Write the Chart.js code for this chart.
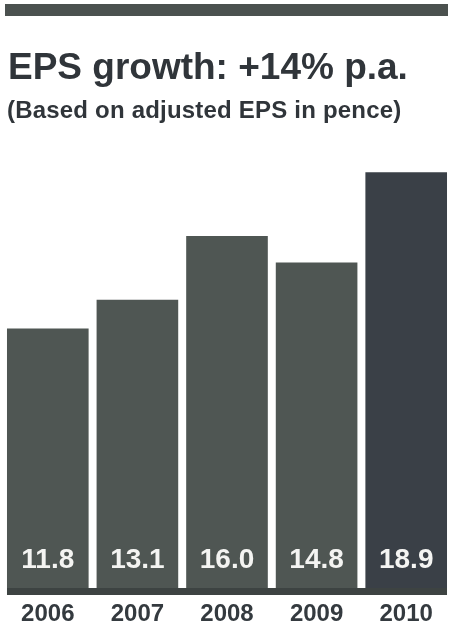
<!DOCTYPE html>
<html>
<head>
<meta charset="utf-8">
<script src="https://cdn.jsdelivr.net/npm/chart.js@4.4.0/dist/chart.umd.min.js"></script>
<style>
  body { margin: 0; background: #fff; }
  #wrap { position: relative; width: 451px; height: 630px; font-family: "Liberation Sans", Arial, Helvetica, sans-serif; }
  #rule { position: absolute; left: 5px; top: 4px; width: 443px; height: 12px; background: #4b514f; }
  #title { position: absolute; left: 8px; top: 48px; margin: 0; font-size: 37px; line-height: 37px; font-weight: bold; color: #30353a; white-space: nowrap; }
  #subtitle { position: absolute; left: 7px; top: 98px; margin: 0; font-size: 24px; line-height: 24px; font-weight: bold; letter-spacing: 0.2px; color: #30353a; white-space: nowrap; }
  canvas { position: absolute; left: 0; top: 0; }
</style>
</head>
<body>
<div id="wrap">
  <canvas id="epsChart" width="451" height="630"></canvas>
  <div id="rule"></div>
  <h1 id="title">EPS growth: +14% p.a.</h1>
  <div id="subtitle">(Based on adjusted EPS in pence)</div>
</div>
<script>
const years = ['2006', '2007', '2008', '2009', '2010'];
const eps = [11.8, 13.1, 16.0, 14.8, 18.9];

const GREY = '#4f5653';
const DARK = '#3a4047';
const TEXT = '#343a3f';

// value written near the foot of each bar
const valueLabels = {
  id: 'valueLabels',
  afterDatasetsDraw(chart) {
    const ctx = chart.ctx;
    const meta = chart.getDatasetMeta(0);
    ctx.save();
    ctx.font = 'bold 28px "Liberation Sans", Arial, sans-serif';
    ctx.fillStyle = '#f4f4f2';
    ctx.textAlign = 'center';
    ctx.textBaseline = 'middle';
    meta.data.forEach((bar, i) => {
      ctx.fillText(eps[i].toFixed(1), bar.x, bar.base - 28);
    });
    ctx.restore();
  }
};

// thick dark base line running under the bars
const baseBand = {
  id: 'baseBand',
  afterDatasetsDraw(chart) {
    const meta = chart.getDatasetMeta(0);
    const first = meta.data[0];
    const last = meta.data[meta.data.length - 1];
    const ctx = chart.ctx;
    ctx.save();
    ctx.fillStyle = '#3d4342';
    const x0 = first.x - first.width / 2;
    const x1 = last.x + last.width / 2;
    ctx.fillRect(x0, first.base, x1 - x0, 7);
    ctx.restore();
  }
};

new Chart(document.getElementById('epsChart'), {
  type: 'bar',
  data: {
    labels: years,
    datasets: [{
      data: eps,
      backgroundColor: eps.map((v, i) => i === eps.length - 1 ? DARK : GREY),
      barPercentage: 0.911,
      categoryPercentage: 1.0
    }]
  },
  options: {
    responsive: false,
    animation: false,
    layout: { padding: { top: 126, left: 3, right: 0, bottom: 4 } },
    plugins: {
      legend: { display: false },
      tooltip: { enabled: false }
    },
    scales: {
      y: {
        display: false,
        min: 0,
        max: 21
      },
      x: {
        grid: { display: false, drawTicks: false, tickLength: 0 },
        border: { display: false },
        afterFit(scale) { scale.height = 38; },
        ticks: {
          padding: 12,
          color: TEXT,
          font: { family: '"Liberation Sans", Arial, sans-serif', size: 24, weight: 'bold' }
        }
      }
    }
  },
  plugins: [baseBand, valueLabels]
});
</script>
</body>
</html>
